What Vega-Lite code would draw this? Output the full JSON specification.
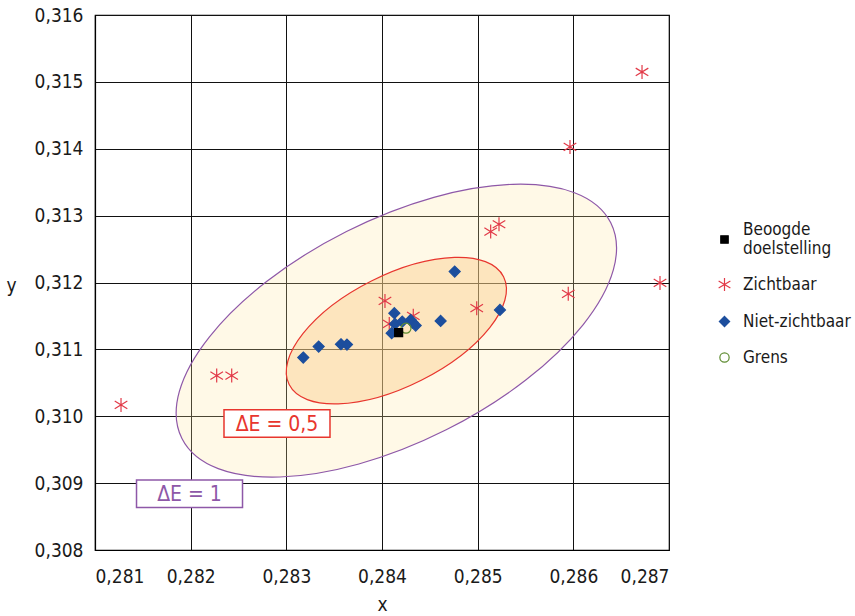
{
  "$schema": "https://vega.github.io/schema/vega-lite/v6.json",
  "width": 574,
  "height": 535,
  "autosize": "none",
  "padding": {"left": 95, "top": 15, "right": 186, "bottom": 66},
  "background": "white",
  "config": {
    "font": "Liberation Sans Narrow, DejaVu Sans Condensed, Liberation Sans, sans-serif",
    "view": {"stroke": "black", "strokeWidth": 1.2},
    "axis": {
      "grid": true, "gridColor": "#111111", "gridOpacity": 1, "gridWidth": 1,
      "domain": true, "domainColor": "black", "domainWidth": 1.2,
      "ticks": false,
      "labelFontSize": 19, "labelColor": "#1a1a1a",
      "titleFontSize": 19, "titleFontWeight": "normal", "titleColor": "#1a1a1a"
    },
    "legend": {"labelFontSize": 17, "labelColor": "#1a1a1a", "orient": "none", "legendX": 621, "legendY": 216, "padding": 0, "labelOffset": 10, "rowPadding": 18, "symbolSize": 170, "symbolStrokeWidth": 1.2}
  },
  "layer": [
    {
      "data": {"values": [{"x": 0.28415, "y": 0.31128, "ring": "ΔE = 1"}]},
      "mark": {"type": "point", "shape": "M0.8934,-0.4493C1.0082,-0.2211 0.7012,0.1651 0.2078,0.4132C-0.2856,0.6613 -0.7786,0.6775 -0.8934,0.4493C-1.0082,0.2211 -0.7012,-0.1651 -0.2078,-0.4132C0.2856,-0.6613 0.7786,-0.6775 0.8934,-0.4493Z", "size": 230400, "fill": "#FFE6A0", "fillOpacity": 0.25, "stroke": "#8E58A8", "strokeWidth": 1.2, "opacity": 1, "filled": true},
      "encoding": {
        "x": {"field": "x", "type": "quantitative", "scale": {"domain": [0.281, 0.287], "nice": false, "zero": false},
              "axis": {"values": [0.281, 0.282, 0.283, 0.284, 0.285, 0.286, 0.287], "labelExpr": "replace(format(datum.value, '.3f'), '.', ',')", "labelPadding": 17, "title": "x", "titleY": 60, "titleBaseline": "alphabetic"}},
        "y": {"field": "y", "type": "quantitative", "scale": {"domain": [0.308, 0.316], "nice": false, "zero": false},
              "axis": {"values": [0.308, 0.309, 0.31, 0.311, 0.312, 0.313, 0.314, 0.315, 0.316], "labelExpr": "replace(format(datum.value, '.3f'), '.', ',')", "labelPadding": 12, "title": "y", "titleAngle": 0, "titleX": -79, "titleY": 276, "titleAlign": "right", "titleBaseline": "alphabetic"}}
      }
    },
    {
      "data": {"values": [{"x": 0.28415, "y": 0.31128, "ring": "ΔE = 0,5"}]},
      "mark": {"type": "point", "shape": "M0.8934,-0.4493C1.0082,-0.2211 0.7012,0.1651 0.2078,0.4132C-0.2856,0.6613 -0.7786,0.6775 -0.8934,0.4493C-1.0082,0.2211 -0.7012,-0.1651 -0.2078,-0.4132C0.2856,-0.6613 0.7786,-0.6775 0.8934,-0.4493Z", "size": 57600, "fill": "#FAC882", "fillOpacity": 0.4, "stroke": "#E8362E", "strokeWidth": 1.2, "opacity": 1, "filled": true},
      "encoding": {
        "x": {"field": "x", "type": "quantitative"},
        "y": {"field": "y", "type": "quantitative"}
      }
    },
    {
      "data": {"values": [{"x": 0.2829024, "y": 0.309891, "label": "ΔE = 0,5"}]},
      "mark": {"type": "point", "shape": "M-1,-0.2594H1V0.2594H-1Z", "size": 11236, "fill": "white", "stroke": "#E8362E", "strokeWidth": 1.5, "opacity": 1, "filled": true},
      "encoding": {"x": {"field": "x", "type": "quantitative"}, "y": {"field": "y", "type": "quantitative"}}
    },
    {
      "data": {"values": [{"x": 0.281988, "y": 0.30884, "label": "ΔE = 1"}]},
      "mark": {"type": "point", "shape": "M-1,-0.2594H1V0.2594H-1Z", "size": 11236, "fill": "white", "stroke": "#8E58A8", "strokeWidth": 1.5, "opacity": 1, "filled": true},
      "encoding": {"x": {"field": "x", "type": "quantitative"}, "y": {"field": "y", "type": "quantitative"}}
    },
    {
      "data": {"values": [{"x": 0.2829024, "y": 0.309891, "label": "ΔE = 0,5"}]},
      "mark": {"type": "text", "fontSize": 21, "color": "#E8362E", "align": "center", "baseline": "middle", "dy": 1},
      "encoding": {"x": {"field": "x", "type": "quantitative"}, "y": {"field": "y", "type": "quantitative"}, "text": {"field": "label"}}
    },
    {
      "data": {"values": [{"x": 0.281988, "y": 0.30884, "label": "ΔE = 1"}]},
      "mark": {"type": "text", "fontSize": 21, "color": "#8E58A8", "align": "center", "baseline": "middle", "dy": 1},
      "encoding": {"x": {"field": "x", "type": "quantitative"}, "y": {"field": "y", "type": "quantitative"}, "text": {"field": "label"}}
    },
    {
      "data": {"values": [
        {"x": 0.281272, "y": 0.310170, "group": "Zichtbaar"},
        {"x": 0.282272, "y": 0.310608, "group": "Zichtbaar"},
        {"x": 0.282429, "y": 0.310608, "group": "Zichtbaar"},
        {"x": 0.284031, "y": 0.311725, "group": "Zichtbaar"},
        {"x": 0.284076, "y": 0.311381, "group": "Zichtbaar"},
        {"x": 0.284327, "y": 0.311501, "group": "Zichtbaar"},
        {"x": 0.284990, "y": 0.311616, "group": "Zichtbaar"},
        {"x": 0.285136, "y": 0.312761, "group": "Zichtbaar"},
        {"x": 0.285223, "y": 0.312871, "group": "Zichtbaar"},
        {"x": 0.285947, "y": 0.311830, "group": "Zichtbaar"},
        {"x": 0.285965, "y": 0.314027, "group": "Zichtbaar"},
        {"x": 0.286718, "y": 0.315148, "group": "Zichtbaar"},
        {"x": 0.286906, "y": 0.311994, "group": "Zichtbaar"},
        {"x": 0.283177, "y": 0.310878, "group": "Niet-zichtbaar"},
        {"x": 0.283338, "y": 0.311042, "group": "Niet-zichtbaar"},
        {"x": 0.283571, "y": 0.311077, "group": "Niet-zichtbaar"},
        {"x": 0.283634, "y": 0.311072, "group": "Niet-zichtbaar"},
        {"x": 0.284129, "y": 0.311541, "group": "Niet-zichtbaar"},
        {"x": 0.284101, "y": 0.311242, "group": "Niet-zichtbaar"},
        {"x": 0.284136, "y": 0.311381, "group": "Niet-zichtbaar"},
        {"x": 0.284212, "y": 0.311416, "group": "Niet-zichtbaar"},
        {"x": 0.284300, "y": 0.311441, "group": "Niet-zichtbaar"},
        {"x": 0.284321, "y": 0.311401, "group": "Niet-zichtbaar"},
        {"x": 0.284352, "y": 0.311356, "group": "Niet-zichtbaar"},
        {"x": 0.284613, "y": 0.311426, "group": "Niet-zichtbaar"},
        {"x": 0.284760, "y": 0.312163, "group": "Niet-zichtbaar"},
        {"x": 0.285233, "y": 0.311590, "group": "Niet-zichtbaar"},
        {"x": 0.284251, "y": 0.311317, "group": "Grens"},
        {"x": 0.284174, "y": 0.311251, "group": "Beoogde doelstelling"}
      ]},
      "mark": {"type": "point", "opacity": 1, "strokeWidth": 1.2, "size": 196},
      "encoding": {
        "x": {"field": "x", "type": "quantitative"},
        "y": {"field": "y", "type": "quantitative"},
        "shape": {"field": "group", "type": "nominal",
          "scale": {"domain": ["Beoogde doelstelling", "Zichtbaar", "Niet-zichtbaar", "Grens"],
                    "range": ["M-0.571,-0.571H0.571V0.571H-0.571Z", "M0,-1V1M-0.9,-0.55L0.9,0.55M-0.9,0.55L0.9,-0.55", "M0,-0.786L0.786,0L0,0.786L-0.786,0Z", "M0.714,0C0.714,0.394 0.394,0.714 0,0.714C-0.394,0.714 -0.714,0.394 -0.714,0C-0.714,-0.394 -0.394,-0.714 0,-0.714C0.394,-0.714 0.714,-0.394 0.714,0Z"]},
          "legend": {"title": null, "labelExpr": "datum.label == 'Beoogde doelstelling' ? ['Beoogde', 'doelstelling'] : datum.label", "labelBaseline": {"expr": "datum.value == 'Beoogde doelstelling' ? 'line-bottom' : 'middle'"}}},
        "stroke": {"field": "group", "type": "nominal",
          "scale": {"domain": ["Beoogde doelstelling", "Zichtbaar", "Niet-zichtbaar", "Grens"],
                    "range": ["black", "#E23A48", "#1C4E9D", "#5E8C31"]},
          "legend": {"title": null, "labelExpr": "datum.label == 'Beoogde doelstelling' ? ['Beoogde', 'doelstelling'] : datum.label", "labelBaseline": {"expr": "datum.value == 'Beoogde doelstelling' ? 'line-bottom' : 'middle'"}}},
        "fill": {"field": "group", "type": "nominal",
          "scale": {"domain": ["Beoogde doelstelling", "Zichtbaar", "Niet-zichtbaar", "Grens"],
                    "range": ["black", "transparent", "#1C4E9D", "transparent"]},
          "legend": {"title": null, "labelExpr": "datum.label == 'Beoogde doelstelling' ? ['Beoogde', 'doelstelling'] : datum.label", "labelBaseline": {"expr": "datum.value == 'Beoogde doelstelling' ? 'line-bottom' : 'middle'"}}}
      }
    }
  ]
}
